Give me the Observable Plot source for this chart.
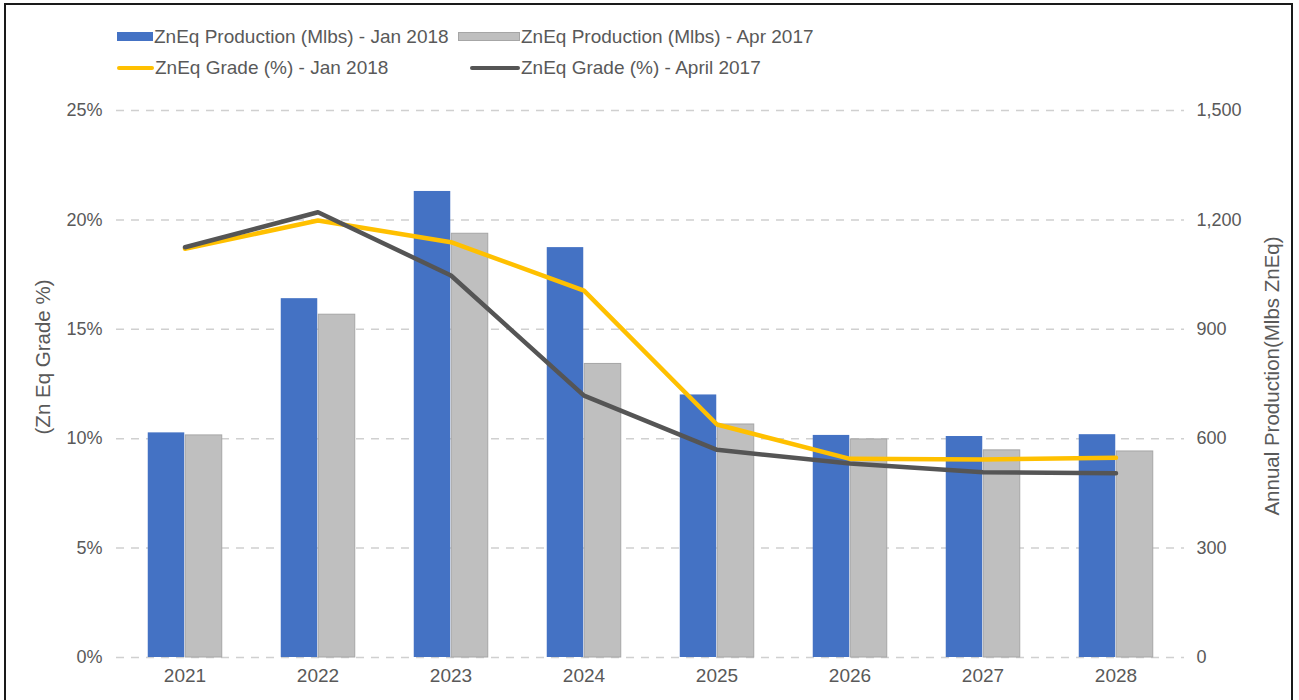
<!DOCTYPE html>
<html>
<head>
<meta charset="utf-8">
<script src="https://cdn.jsdelivr.net/npm/d3@7"></script>
<script src="https://cdn.jsdelivr.net/npm/@observablehq/plot@0.6"></script>
<style>
  html, body { margin: 0; padding: 0; background: #fff; width: 1299px; height: 700px; overflow: hidden; }
  body { position: relative; font-family: "Liberation Sans", Arial, sans-serif; }
  #frame { position: absolute; left: 4px; top: 3px; width: 1289px; height: 710px; border: 2px solid #1a1a1a; box-sizing: border-box; pointer-events: none; }
  #chart { position: absolute; left: 0; top: 0; }
  .leg { position: absolute; font-size: 19px; color: #595959; white-space: nowrap; line-height: 22px; }
  .sw { position: absolute; }
</style>
</head>
<body>
<div id="chart"></div>
<div id="legend"></div>
<div id="frame"></div>
<script>
const years = ["2021", "2022", "2023", "2024", "2025", "2026", "2027", "2028"];
const prodJan2018 = [616, 984, 1278, 1124, 720, 609, 606, 611];
const prodApr2017 = [609, 940, 1162, 805, 639, 598, 568, 565];
const gradeJan2018 = [18.68, 19.97, 18.98, 16.77, 10.65, 9.08, 9.05, 9.13];
const gradeApr2017 = [18.75, 20.35, 17.46, 11.97, 9.49, 8.87, 8.47, 8.42];
const leftTicks = [0, 5, 10, 15, 20, 25];
const rightTicks = [0, 300, 600, 900, 1200, 1500];
const seriesNames = [
  "ZnEq Production (Mlbs) - Jan 2018",
  "ZnEq Production (Mlbs) - Apr 2017",
  "ZnEq Grade (%) - Jan 2018",
  "ZnEq Grade (%) - April 2017"
];
const leftTitle = "(Zn Eq Grade %)";
const rightTitle = "Annual Production(Mlbs ZnEq)";

// 1,500 Mlbs on the right axis corresponds to 25% on the left axis
const ratio = rightTicks[rightTicks.length - 1] / leftTicks[leftTicks.length - 1];

const barsJan = years.map((y, i) => ({year: y, v: prodJan2018[i]}));
const barsApr = years.map((y, i) => ({year: y, v: prodApr2017[i]}));
const lineJan = years.map((y, i) => ({year: y, v: gradeJan2018[i]}));
const lineApr = years.map((y, i) => ({year: y, v: gradeApr2017[i]}));

const W = 1299, H = 700;
const mL = 116, mR = 115, mT = 110, mB = 43;
const band = (W - mL - mR) / years.length;

const plot = Plot.plot({
  width: W,
  height: H,
  marginLeft: mL,
  marginRight: mR,
  marginTop: mT,
  marginBottom: mB,
  style: {fontFamily: "Liberation Sans, Arial, sans-serif", fontSize: "18px", color: "#595959", background: "transparent"},
  x: {type: "band", domain: years, padding: 0, label: null},
  y: {domain: [0, 25], label: null},
  marks: [
    Plot.gridY(leftTicks, {stroke: "#d0d0d0", strokeOpacity: 1, strokeWidth: 1.5, strokeDasharray: "8,7"}),
    Plot.barY(barsJan, {x: "year", y: d => d.v / ratio, fill: "#4472c4",
      insetLeft: band / 2 - 37, insetRight: band / 2}),
    Plot.barY(barsApr, {x: "year", y: d => d.v / ratio, fill: "#bfbfbf", stroke: "#a6a6a6", strokeWidth: 1,
      insetLeft: band / 2 + 0.5, insetRight: band / 2 - 37.5}),
    Plot.line(lineJan, {x: "year", y: "v", stroke: "#ffc000", strokeWidth: 4.5, curve: "linear", strokeLinecap: "round", strokeLinejoin: "round"}),
    Plot.line(lineApr, {x: "year", y: "v", stroke: "#555555", strokeWidth: 4.5, curve: "linear", strokeLinecap: "round", strokeLinejoin: "round"}),
    Plot.axisX({tickSize: 0, tickPadding: 11, fontSize: 19, fill: "#595959"}),
    Plot.axisY(leftTicks, {anchor: "left", tickSize: 0, tickPadding: 14, tickFormat: d => d + "%", fontSize: 18, fill: "#595959", label: null}),
    Plot.axisY(leftTicks, {anchor: "right", tickSize: 0, tickPadding: 12, tickFormat: d => d3.format(",")(d * ratio), fontSize: 18, fill: "#595959", label: null}),
    Plot.text([leftTitle], {frameAnchor: "left", textAnchor: "middle", dx: -73, dy: -27, rotate: -90, fontSize: 20.5, fill: "#595959"}),
    Plot.text([rightTitle], {frameAnchor: "right", textAnchor: "middle", dx: 88, dy: -8, rotate: -90, fontSize: 20.5, fill: "#595959"})
  ]
});
document.getElementById("chart").appendChild(plot);

// Legend
const legend = document.getElementById("legend");
const legItems = [
  {name: seriesNames[0], kind: "bar", color: "#4472c4", stroke: "#4472c4", x: 117, sw: 36, y: 37},
  {name: seriesNames[1], kind: "bar", color: "#bfbfbf", stroke: "#a6a6a6", x: 458, sw: 62, y: 37},
  {name: seriesNames[2], kind: "line", color: "#ffc000", x: 117, sw: 37, y: 68},
  {name: seriesNames[3], kind: "line", color: "#555555", x: 470, sw: 50, y: 68}
];
legItems.forEach(it => {
  const s = document.createElement("div");
  s.className = "sw";
  if (it.kind === "bar") {
    s.style.cssText = `left:${it.x}px;top:${it.y - 5}px;width:${it.sw}px;height:9px;background:${it.color};border:1px solid ${it.stroke};box-sizing:border-box;`;
  } else {
    s.style.cssText = `left:${it.x}px;top:${it.y - 2}px;width:${it.sw}px;height:4px;background:${it.color};border-radius:2px;`;
  }
  legend.appendChild(s);
  const t = document.createElement("div");
  t.className = "leg";
  t.textContent = it.name;
  t.style.left = (it.x + it.sw + 1) + "px";
  t.style.top = (it.y - 11) + "px";
  legend.appendChild(t);
});
</script>
</body>
</html>
